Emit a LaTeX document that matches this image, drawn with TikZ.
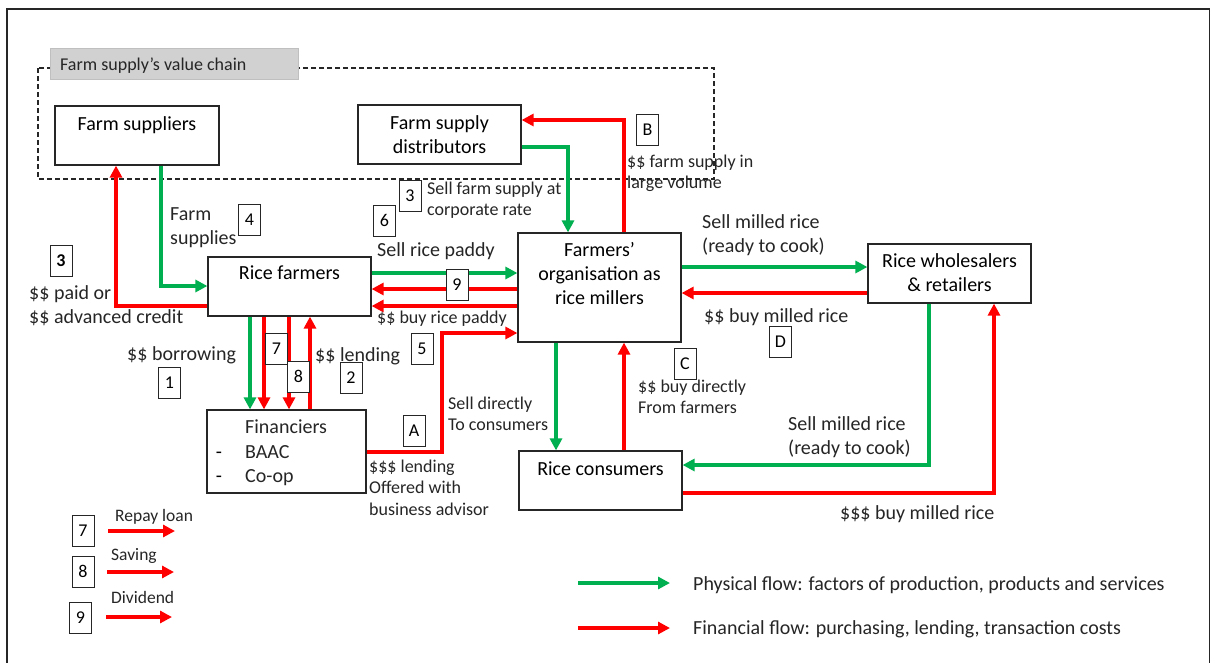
\documentclass[tikz,border=0pt]{standalone}
\usepackage{fontspec}
\setmainfont{Carlito}
\usetikzlibrary{arrows.meta}
\definecolor{flowgreen}{HTML}{00B050}
\definecolor{flowred}{HTML}{FF0000}
\begin{document}
\begin{tikzpicture}[x=1pt,y=-1pt,
  box/.style={draw=black!85,line width=1.2pt,inner sep=0pt},
  boxtext/.style={anchor=base,inner sep=0pt,font=\fontsize{20pt}{24pt}\selectfont},
  big/.style={anchor=base west,inner sep=0pt,font=\fontsize{20pt}{24pt}\selectfont,text=black!85},
  small/.style={anchor=base west,inner sep=0pt,font=\fontsize{18pt}{21pt}\selectfont,text=black!85},
  numbox/.style={draw=black!85,line width=1pt,minimum width=22pt,minimum height=31pt,inner sep=0pt,font=\fontsize{18pt}{21pt}\selectfont},
  flow/.style={line width=3.8pt,-{Triangle[length=12pt,width=12pt]}},
  gflow/.style={flow,draw=flowgreen},
  rflow/.style={flow,draw=flowred}]
\useasboundingbox (0,0) rectangle (1213,662);
\fill[white] (0,0) rectangle (1213,662);

% outer frame
\draw[line width=1.3pt,black!85] (7,680) -- (7,9) -- (1209.5,9) -- (1209.5,680);

% value chain grouping
\draw[line width=1.1pt,black!85,dash pattern=on 5pt off 3pt] (38,68) rectangle (714,179);
\node[draw=black!25,fill=black!18,line width=0.8pt,minimum width=248pt,minimum height=31pt,inner sep=0pt] (vcbox) at (174,63.5) {};
\node[small] (vclabel) at (60,70.5) {Farm supply’s value chain};

% actors
\node[box,minimum width=164pt,minimum height=59pt] (fs) at (137,135.5) {};
\node[boxtext] (fst) at (137,130) {Farm suppliers};
\node[box,minimum width=163pt,minimum height=59pt] (fsd) at (439.5,134.5) {};
\node[boxtext] (fsdt1) at (439.5,129) {Farm supply};
\node[boxtext] (fsdt2) at (439.5,153) {distributors};
\node[box,minimum width=163pt,minimum height=59pt] (rf) at (289.5,286.5) {};
\node[boxtext] (rft) at (289.5,279) {Rice farmers};
\node[box,minimum width=163pt,minimum height=109pt] (org) at (599.5,287.5) {};
\node[boxtext] (orgt1) at (599.5,256) {Farmers’};
\node[boxtext] (orgt2) at (599.5,280) {organisation as};
\node[boxtext] (orgt3) at (599.5,304) {rice millers};
\node[box,minimum width=163pt,minimum height=59pt] (wh) at (949.5,273.5) {};
\node[boxtext] (wht1) at (949.5,267) {Rice wholesalers};
\node[boxtext] (wht2) at (949.5,291) {\& retailers};
\node[box,minimum width=159pt,minimum height=83pt] (fin) at (286.5,451.5) {};
\node[big] (fint1) at (245,433) {Financiers};
\node[boxtext] (find1) at (219,458) {-};
\node[big] (fint2) at (245,458) {BAAC};
\node[boxtext] (find2) at (219,482) {-};
\node[big] (fint3) at (245,482) {Co-op};
\node[box,minimum width=163pt,minimum height=59pt] (con) at (600.5,480.5) {};
\node[boxtext] (cont) at (600.5,475) {Rice consumers};

% flows between farmers and their suppliers
\draw[gflow] (fs.south -| 161,0) |- (rf.west |- 0,286);
\draw[rflow] (rf.west |- 0,306) -| (fs.south -| 116,0);
\draw[gflow] (fsd.east |- 0,147) -| (org.north -| 568,0);
\draw[rflow] (org.north -| 624,0) |- (fsd.east |- 0,120);

% farmers and the millers' organisation
\draw[gflow] (rf.east |- 0,273) -- (org.west |- 0,273);
\draw[rflow] (org.west |- 0,289) -- (rf.east |- 0,289);
\draw[rflow] (org.west |- 0,306) -- (rf.east |- 0,306);

% farmers and financiers
\draw[gflow] (rf.south -| 250,0) -- (fin.north -| 250,0);
\draw[rflow] (rf.south -| 264,0) -- (fin.north -| 264,0);
\draw[rflow] (rf.south -| 289,0) -- (fin.north -| 289,0);
\draw[rflow] (fin.north -| 310,0) -- (rf.south -| 310,0);
\draw[rflow] (fin.east |- 0,452) -| (442,333) -- (org.west |- 0,333);

% millers, traders and consumers
\draw[gflow] (org.east |- 0,267) -- (wh.west |- 0,267);
\draw[rflow] (wh.west |- 0,293) -- (org.east |- 0,293);
\draw[gflow] (org.south -| 556,0) -- (con.north -| 556,0);
\draw[rflow] (con.north -| 624,0) -- (org.south -| 624,0);
\draw[gflow] (wh.south -| 929,0) |- (con.east |- 0,465);
\draw[rflow] (con.east |- 0,493) -| (wh.south -| 994,0);

% flow labels
\node[big] (l4a) at (170,220) {Farm};
\node[big] (l4b) at (170,244) {supplies};
\node[big] (l3a) at (29,299) {\$\$ paid or};
\node[big] (l3b) at (29,323) {\$\$ advanced credit};
\node[small] (lBa) at (627,167) {\$\$ farm supply in};
\node[small] (lBb) at (627,188) {large volume};
\node[small] (l3c) at (427,194) {Sell farm supply at};
\node[small] (l3d) at (427,215) {corporate rate};
\node[big] (l6) at (377,256) {Sell rice paddy};
\node[small] (l5) at (377,323) {\$\$ buy rice paddy};
\node[big] (l1) at (127,360) {\$\$ borrowing};
\node[big] (l2) at (315,361) {\$\$ lending};
\node[small] (lAa) at (448,409) {Sell directly};
\node[small] (lAb) at (448,430) {To consumers};
\node[small] (lAc) at (369,472) {\$\$\$ lending};
\node[small] (lAd) at (369,493) {Offered with};
\node[small] (lAe) at (369,515) {business advisor};
\node[small] (lCa) at (638,392) {\$\$ buy directly};
\node[small] (lCb) at (638,413) {From farmers};
\node[big] (lwa) at (702,228) {Sell milled rice};
\node[big] (lwb) at (702,252) {(ready to cook)};
\node[big] (lD) at (704,322) {\$\$ buy milled rice};
\node[big] (lca) at (788,430) {Sell milled rice};
\node[big] (lcb) at (788,454) {(ready to cook)};
\node[big] (lcc) at (840,519) {\$\$\$ buy milled rice};

% numbered markers
\node[numbox] (n3a) at (410,196) {3};
\node[numbox] (n6) at (384.5,220.5) {6};
\node[numbox] (n4) at (249.5,219.5) {4};
\node[numbox,font=\fontsize{18pt}{21pt}\selectfont\bfseries] (n3b) at (61,261) {3};
\node[numbox,fill=white] (n9) at (457,285) {9};
\node[numbox] (nB) at (647.5,130) {B};
\node[numbox] (n1) at (169.5,382.5) {1};
\node[numbox,fill=white] (n7) at (276.5,349) {7};
\node[numbox,fill=white] (n8) at (298.5,376.5) {8};
\node[numbox] (n2) at (351,378) {2};
\node[numbox] (n5) at (422,349) {5};
\node[numbox] (nA) at (414,431) {A};
\node[numbox] (nC) at (685,363.5) {C};
\node[numbox] (nD) at (780.5,341.5) {D};

% key for the numbered payments
\node[numbox] (k7) at (83,531) {7};
\node[numbox] (k8) at (83,571.5) {8};
\node[numbox] (k9) at (80.5,617.5) {9};
\coordinate (k7s) at (108,531); \coordinate (k7e) at (175,531);
\coordinate (k8s) at (107,572); \coordinate (k8e) at (174,572);
\coordinate (k9s) at (106,617); \coordinate (k9e) at (172,617);
\draw[rflow] (k7s) -- (k7e);
\draw[rflow] (k8s) -- (k8e);
\draw[rflow] (k9s) -- (k9e);
\node[small,font=\fontsize{17.5pt}{21pt}\selectfont] (k7t) at (115,521) {Repay loan};
\node[small,font=\fontsize{17.5pt}{21pt}\selectfont] (k8t) at (111,560) {Saving};
\node[small,font=\fontsize{17.5pt}{21pt}\selectfont] (k9t) at (111,603) {Dividend};

% key for the flow colours
\coordinate (pgs) at (578,583); \coordinate (pge) at (670,583);
\coordinate (prs) at (578,628); \coordinate (pre) at (670,628);
\draw[gflow] (pgs) -- (pge);
\draw[rflow] (prs) -- (pre);
\node[big] (pgt) at (693,590) {Physical flow: factors of production, products and services};
\node[big] (prt) at (693,634) {Financial flow: purchasing, lending, transaction costs};
\end{tikzpicture}
\end{document}
